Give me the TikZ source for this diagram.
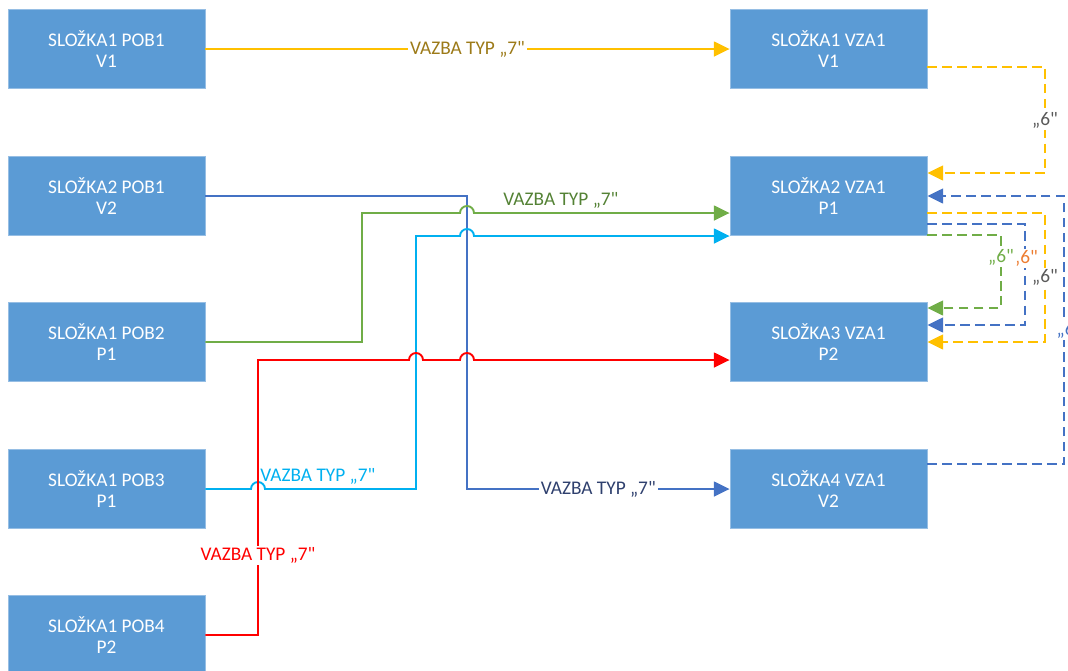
\documentclass[tikz,border=0pt]{standalone}
\usepackage{fontspec}
\setmainfont{Carlito}[Ligatures=TeXOff]
\definecolor{boxblue}{RGB}{91,155,213}
\definecolor{boxedge}{RGB}{150,190,228}
\definecolor{lnyellow}{RGB}{255,192,0}
\definecolor{lnblue}{RGB}{68,114,196}
\definecolor{lngreen}{RGB}{112,173,71}
\definecolor{lncyan}{RGB}{0,176,240}
\definecolor{lnred}{RGB}{255,0,0}
\definecolor{txgold}{RGB}{156,122,24}
\definecolor{txgreen}{RGB}{84,130,53}
\definecolor{txblue}{RGB}{47,64,110}
\definecolor{txgray}{RGB}{89,89,89}
\definecolor{txorange}{RGB}{237,125,49}
\usetikzlibrary{arrows.meta,positioning,calc}

\begin{document}
\begin{tikzpicture}[x=0.02cm,y=-0.02cm,
  comp/.style={draw=boxedge,line width=0.5pt,fill=boxblue,minimum width=3.94cm,minimum height=1.58cm,text=white,align=center,font=\fontsize{11}{12}\selectfont},
  link/.style={line width=1.1pt,-{Triangle[length=9pt,width=8.5pt]}},
  dlink/.style={link,dash pattern=on 5.5pt off 3pt},
  lbl/.style={fill=white,inner sep=1pt,font=\fontsize{11}{12}\selectfont}]
  \useasboundingbox (0,0) rectangle (1068,670);
  % source components
  \node[comp] (s1pob1) at (106.5,49) {SLOŽKA1 POB1\\V1};
  \node[comp] (s2pob1) at (106.5,196) {SLOŽKA2 POB1\\V2};
  \node[comp] (s1pob2) at (106.5,342) {SLOŽKA1 POB2\\P1};
  \node[comp] (s1pob3) at (106.5,489) {SLOŽKA1 POB3\\P1};
  \node[comp] (s1pob4) at (106.5,635) {SLOŽKA1 POB4\\P2};
  % target components
  \node[comp] (s1vza1) at (828.5,49) {SLOŽKA1 VZA1\\V1};
  \node[comp] (s2vza1) at (828.5,196) {SLOŽKA2 VZA1\\P1};
  \node[comp] (s3vza1) at (828.5,342) {SLOŽKA3 VZA1\\P2};
  \node[comp] (s4vza1) at (828.5,489) {SLOŽKA4 VZA1\\V2};
  % links type 7
  \draw[link,lnyellow] (s1pob1) -- node[lbl,text=txgold] {VAZBA TYP „7"} (s1vza1);
  \draw[link,lnblue] (s2pob1.east) -- (467,196) -- (467,489) -- node[lbl,text=txblue] {VAZBA TYP „7"} (s4vza1.west);
  \draw[link,lngreen] (s1pob2.east) -| (362,213) -- (460,213) arc[start angle=180,end angle=0,radius=0.14cm]
    -- node[pos=0.34,above=1pt,inner sep=1pt,text=txgreen,font=\fontsize{11}{12}\selectfont] {VAZBA TYP „7"} ($(s2vza1.west)+(0,17)$);
  \draw[link,lncyan] (s1pob3.east) -- (251,489) arc[start angle=180,end angle=0,radius=0.14cm]
    -- node[pos=0.35,above=1pt,inner sep=1pt,text=lncyan,font=\fontsize{11}{12}\selectfont] {VAZBA TYP „7"} (416,489)
    -- (416,236) -- (460,236) arc[start angle=180,end angle=0,radius=0.14cm] -- ($(s2vza1.west)+(0,40)$);
  \draw[link,lnred] (s1pob4.east) -- (258,635) -- node[pos=0.29,lbl,text=lnred] {VAZBA TYP „7"} (258,360)
    -- (409,360) arc[start angle=180,end angle=0,radius=0.14cm]
    -- (460,360) arc[start angle=180,end angle=0,radius=0.14cm] -- ($(s3vza1.west)+(0,18)$);
  % links type 6
  \draw[dlink,lnyellow] ($(s1vza1.east)+(0,18)$) -- (1045,67) -- node[lbl,text=txgray] {„6"} (1045,173) -- ($(s2vza1.east)+(0,-23)$);
  \draw[dlink,lnblue] ($(s4vza1.east)+(0,-25)$) -- (1064,464)
    -- node[lbl,text=lnblue,anchor=west,xshift=-0.2cm] {„6"} (1064,196) -- (s2vza1.east);
  \draw[dlink,lnyellow] ($(s2vza1.east)+(0,17)$) -- (1045,213) -- node[lbl,text=txgray] {„6"} (1045,342) -- (s3vza1.east);
  \draw[dlink,lnblue] ($(s2vza1.east)+(0,28)$) -- (1025,224) -- node[pos=0.34,lbl,text=txorange] {„6"} (1025,325) -- ($(s3vza1.east)+(0,-17)$);
  \draw[dlink,lngreen] ($(s2vza1.east)+(0,39)$) -- (1001,235) -- node[pos=0.31,lbl,text=lngreen] {„6"} (1001,308) -- ($(s3vza1.east)+(0,-34)$);
\end{tikzpicture}
\end{document}
